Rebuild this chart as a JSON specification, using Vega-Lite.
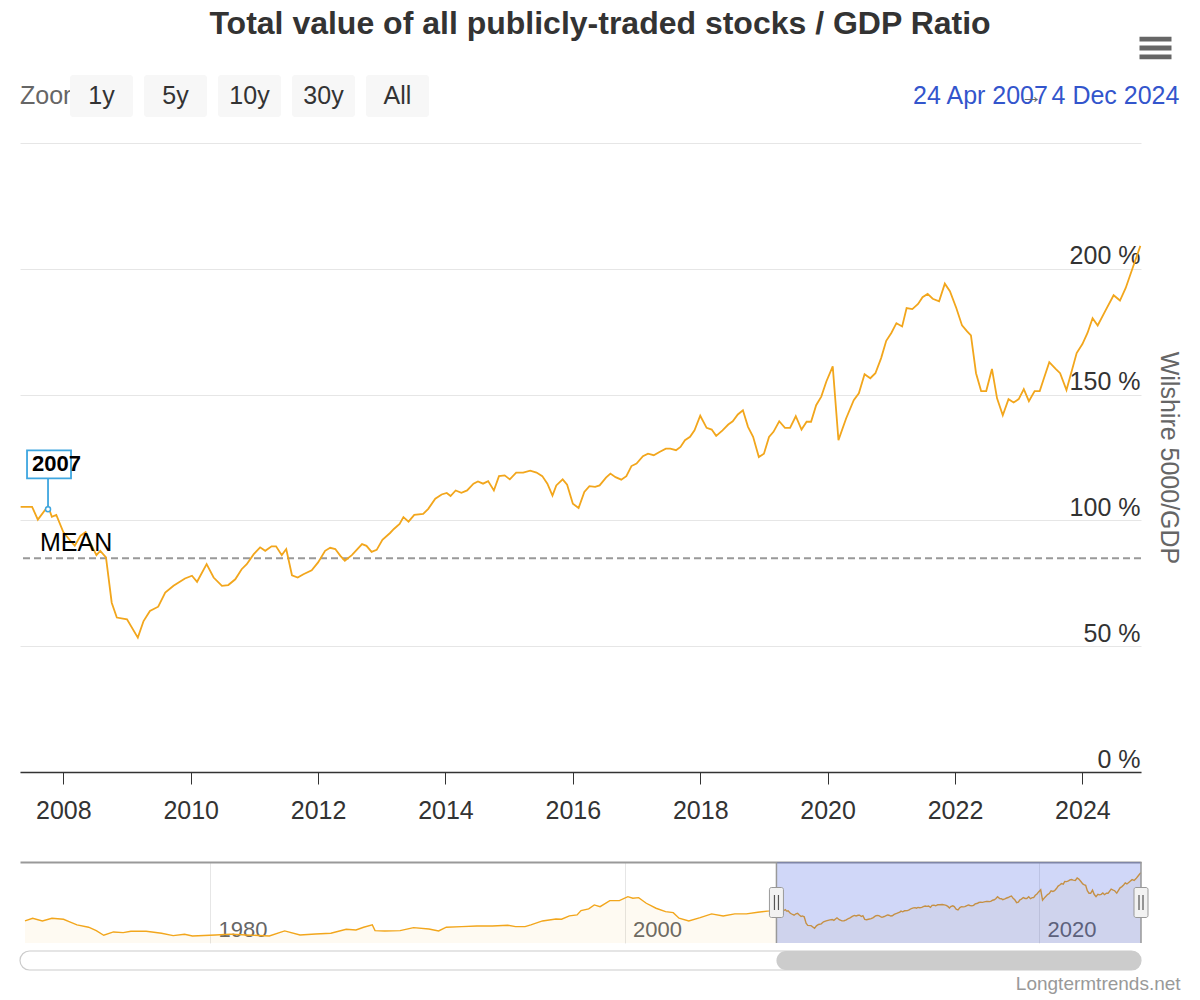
{
  "$schema": "https://vega.github.io/schema/vega-lite/v6.json",
  "background": "white",
  "padding": {"left": 17, "top": 7, "right": 16, "bottom": 4},
  "title": {"text": "Total value of all publicly-traded stocks / GDP Ratio", "fontSize": 32, "fontWeight": "bold", "color": "#333333", "anchor": "middle", "offset": -4},
  "datasets": {
    "wilshire": [
      {"year": 1971.07, "ratio": 73.8}, {"year": 1971.44, "ratio": 81.4}, {"year": 1971.91, "ratio": 73.8}, {"year": 1972.37, "ratio": 81.4},
      {"year": 1972.93, "ratio": 78.6}, {"year": 1973.2, "ratio": 71.9}, {"year": 1973.58, "ratio": 62.6}, {"year": 1974.14, "ratio": 56.2},
      {"year": 1974.51, "ratio": 46.7}, {"year": 1974.87, "ratio": 33.8}, {"year": 1975.34, "ratio": 43.0}, {"year": 1975.81, "ratio": 41.1},
      {"year": 1976.18, "ratio": 45.0}, {"year": 1976.92, "ratio": 45.0}, {"year": 1977.66, "ratio": 39.4}, {"year": 1978.22, "ratio": 32.7},
      {"year": 1978.77, "ratio": 36.6}, {"year": 1979.15, "ratio": 31.8}, {"year": 1980.26, "ratio": 34.6}, {"year": 1981.0, "ratio": 37.0},
      {"year": 1981.74, "ratio": 34.6}, {"year": 1982.86, "ratio": 31.8}, {"year": 1983.6, "ratio": 45.8}, {"year": 1984.34, "ratio": 34.6},
      {"year": 1985.09, "ratio": 37.4}, {"year": 1985.83, "ratio": 39.4}, {"year": 1986.57, "ratio": 50.6}, {"year": 1987.04, "ratio": 48.6},
      {"year": 1987.41, "ratio": 56.2}, {"year": 1987.83, "ratio": 62.6}, {"year": 1987.96, "ratio": 46.7}, {"year": 1988.43, "ratio": 45.8},
      {"year": 1989.17, "ratio": 46.7}, {"year": 1989.82, "ratio": 55.1}, {"year": 1990.56, "ratio": 51.4}, {"year": 1991.03, "ratio": 45.8},
      {"year": 1991.4, "ratio": 56.2}, {"year": 1992.14, "ratio": 57.9}, {"year": 1992.88, "ratio": 59.8}, {"year": 1993.62, "ratio": 59.8},
      {"year": 1994.37, "ratio": 61.8}, {"year": 1994.74, "ratio": 57.9}, {"year": 1995.2, "ratio": 57.9}, {"year": 1995.48, "ratio": 62.6},
      {"year": 1996.04, "ratio": 73.8}, {"year": 1996.69, "ratio": 79.4}, {"year": 1996.96, "ratio": 78.6}, {"year": 1997.34, "ratio": 87.9},
      {"year": 1997.71, "ratio": 90.7}, {"year": 1997.9, "ratio": 102.7}, {"year": 1998.27, "ratio": 107.5}, {"year": 1998.54, "ratio": 118.7},
      {"year": 1998.82, "ratio": 113.9}, {"year": 1999.29, "ratio": 130.7}, {"year": 1999.75, "ratio": 130.7}, {"year": 2000.16, "ratio": 141.9},
      {"year": 2000.4, "ratio": 137.4}, {"year": 2000.68, "ratio": 139.1}, {"year": 2001.05, "ratio": 123.4}, {"year": 2001.52, "ratio": 109.4},
      {"year": 2001.98, "ratio": 99.9}, {"year": 2002.35, "ratio": 97.1}, {"year": 2002.63, "ratio": 81.4}, {"year": 2003.1, "ratio": 73.8},
      {"year": 2003.65, "ratio": 83.1}, {"year": 2004.2, "ratio": 93.5}, {"year": 2004.76, "ratio": 87.9}, {"year": 2005.32, "ratio": 93.5},
      {"year": 2005.88, "ratio": 93.5}, {"year": 2006.43, "ratio": 98.2}, {"year": 2006.99, "ratio": 101.9},
      {"year": 2007.33, "ratio": 105.4}, {"year": 2007.51, "ratio": 105.4}, {"year": 2007.6, "ratio": 100.3}, {"year": 2007.76, "ratio": 105.7},
      {"year": 2007.82, "ratio": 101.4}, {"year": 2007.89, "ratio": 102.2}, {"year": 2008.0, "ratio": 95.4}, {"year": 2008.11, "ratio": 91.9},
      {"year": 2008.18, "ratio": 89.9}, {"year": 2008.27, "ratio": 93.9}, {"year": 2008.35, "ratio": 95.3}, {"year": 2008.42, "ratio": 91.3},
      {"year": 2008.52, "ratio": 86.2}, {"year": 2008.58, "ratio": 87.9}, {"year": 2008.67, "ratio": 85.3}, {"year": 2008.76, "ratio": 67.3},
      {"year": 2008.84, "ratio": 61.4}, {"year": 2009.0, "ratio": 60.7}, {"year": 2009.17, "ratio": 53.4}, {"year": 2009.26, "ratio": 60.0},
      {"year": 2009.36, "ratio": 64.0}, {"year": 2009.49, "ratio": 65.7}, {"year": 2009.6, "ratio": 71.3}, {"year": 2009.73, "ratio": 74.0},
      {"year": 2009.91, "ratio": 76.9}, {"year": 2010.02, "ratio": 78.0}, {"year": 2010.1, "ratio": 75.6}, {"year": 2010.25, "ratio": 82.6},
      {"year": 2010.36, "ratio": 77.3}, {"year": 2010.49, "ratio": 74.0}, {"year": 2010.59, "ratio": 74.3}, {"year": 2010.7, "ratio": 76.6},
      {"year": 2010.8, "ratio": 80.6}, {"year": 2010.88, "ratio": 82.6}, {"year": 2010.99, "ratio": 86.6}, {"year": 2011.09, "ratio": 89.3},
      {"year": 2011.17, "ratio": 87.9}, {"year": 2011.27, "ratio": 89.7}, {"year": 2011.34, "ratio": 89.7}, {"year": 2011.43, "ratio": 86.2},
      {"year": 2011.5, "ratio": 88.6}, {"year": 2011.59, "ratio": 78.2}, {"year": 2011.68, "ratio": 77.3}, {"year": 2011.77, "ratio": 78.6},
      {"year": 2011.9, "ratio": 80.2}, {"year": 2012.0, "ratio": 83.3}, {"year": 2012.11, "ratio": 87.9}, {"year": 2012.19, "ratio": 89.1},
      {"year": 2012.27, "ratio": 88.6}, {"year": 2012.35, "ratio": 85.9}, {"year": 2012.42, "ratio": 84.0}, {"year": 2012.53, "ratio": 86.2},
      {"year": 2012.69, "ratio": 90.6}, {"year": 2012.76, "ratio": 89.9}, {"year": 2012.84, "ratio": 87.5}, {"year": 2012.92, "ratio": 88.3},
      {"year": 2013.01, "ratio": 92.3}, {"year": 2013.13, "ratio": 95.0}, {"year": 2013.19, "ratio": 96.6}, {"year": 2013.28, "ratio": 98.6},
      {"year": 2013.34, "ratio": 101.3}, {"year": 2013.42, "ratio": 99.5}, {"year": 2013.51, "ratio": 102.2}, {"year": 2013.65, "ratio": 102.6},
      {"year": 2013.73, "ratio": 104.6}, {"year": 2013.84, "ratio": 108.6}, {"year": 2013.94, "ratio": 110.3}, {"year": 2014.02, "ratio": 110.9},
      {"year": 2014.08, "ratio": 109.7}, {"year": 2014.16, "ratio": 111.9}, {"year": 2014.25, "ratio": 111.0}, {"year": 2014.34, "ratio": 111.9},
      {"year": 2014.44, "ratio": 114.6}, {"year": 2014.51, "ratio": 115.5}, {"year": 2014.59, "ratio": 114.6}, {"year": 2014.67, "ratio": 115.6},
      {"year": 2014.76, "ratio": 111.9}, {"year": 2014.84, "ratio": 117.6}, {"year": 2014.93, "ratio": 117.9}, {"year": 2015.01, "ratio": 116.3},
      {"year": 2015.11, "ratio": 119.0}, {"year": 2015.22, "ratio": 119.0}, {"year": 2015.33, "ratio": 119.8}, {"year": 2015.43, "ratio": 119.0},
      {"year": 2015.52, "ratio": 117.6}, {"year": 2015.6, "ratio": 114.6}, {"year": 2015.68, "ratio": 109.9}, {"year": 2015.74, "ratio": 113.9},
      {"year": 2015.84, "ratio": 116.3}, {"year": 2015.91, "ratio": 114.2}, {"year": 2016.0, "ratio": 106.6}, {"year": 2016.09, "ratio": 104.9},
      {"year": 2016.18, "ratio": 111.3}, {"year": 2016.26, "ratio": 113.6}, {"year": 2016.35, "ratio": 113.3}, {"year": 2016.42, "ratio": 113.9},
      {"year": 2016.52, "ratio": 117.0}, {"year": 2016.59, "ratio": 118.6}, {"year": 2016.67, "ratio": 117.2}, {"year": 2016.76, "ratio": 116.2},
      {"year": 2016.84, "ratio": 117.6}, {"year": 2016.92, "ratio": 121.6}, {"year": 2017.0, "ratio": 122.6}, {"year": 2017.1, "ratio": 125.5},
      {"year": 2017.18, "ratio": 126.5}, {"year": 2017.27, "ratio": 125.9}, {"year": 2017.36, "ratio": 127.2}, {"year": 2017.46, "ratio": 128.5},
      {"year": 2017.53, "ratio": 128.5}, {"year": 2017.62, "ratio": 127.9}, {"year": 2017.69, "ratio": 129.2}, {"year": 2017.76, "ratio": 131.9},
      {"year": 2017.84, "ratio": 133.2}, {"year": 2017.91, "ratio": 135.8}, {"year": 2018.0, "ratio": 141.6}, {"year": 2018.1, "ratio": 136.8},
      {"year": 2018.18, "ratio": 136.1}, {"year": 2018.25, "ratio": 133.6}, {"year": 2018.35, "ratio": 135.8}, {"year": 2018.44, "ratio": 138.1},
      {"year": 2018.51, "ratio": 139.4}, {"year": 2018.59, "ratio": 142.1}, {"year": 2018.67, "ratio": 143.8}, {"year": 2018.75, "ratio": 137.2},
      {"year": 2018.83, "ratio": 133.2}, {"year": 2018.92, "ratio": 125.2}, {"year": 2019.0, "ratio": 126.5}, {"year": 2019.08, "ratio": 133.2},
      {"year": 2019.15, "ratio": 135.2}, {"year": 2019.24, "ratio": 139.4}, {"year": 2019.33, "ratio": 136.8}, {"year": 2019.41, "ratio": 136.8},
      {"year": 2019.5, "ratio": 141.4}, {"year": 2019.59, "ratio": 136.1}, {"year": 2019.67, "ratio": 139.2}, {"year": 2019.74, "ratio": 139.2},
      {"year": 2019.82, "ratio": 145.8}, {"year": 2019.9, "ratio": 149.2}, {"year": 2019.98, "ratio": 155.2}, {"year": 2020.08, "ratio": 161.2},
      {"year": 2020.17, "ratio": 131.9}, {"year": 2020.29, "ratio": 140.5}, {"year": 2020.41, "ratio": 147.8}, {"year": 2020.49, "ratio": 150.5},
      {"year": 2020.58, "ratio": 158.1}, {"year": 2020.67, "ratio": 156.5}, {"year": 2020.75, "ratio": 158.5}, {"year": 2020.84, "ratio": 164.5},
      {"year": 2020.92, "ratio": 171.4}, {"year": 2021.0, "ratio": 174.5}, {"year": 2021.08, "ratio": 178.4}, {"year": 2021.17, "ratio": 177.1},
      {"year": 2021.24, "ratio": 184.4}, {"year": 2021.33, "ratio": 184.0}, {"year": 2021.42, "ratio": 186.0}, {"year": 2021.49, "ratio": 188.7},
      {"year": 2021.57, "ratio": 190.0}, {"year": 2021.65, "ratio": 188.1}, {"year": 2021.75, "ratio": 187.1}, {"year": 2021.84, "ratio": 194.1},
      {"year": 2021.92, "ratio": 191.1}, {"year": 2022.02, "ratio": 184.4}, {"year": 2022.11, "ratio": 177.5}, {"year": 2022.19, "ratio": 175.1},
      {"year": 2022.25, "ratio": 173.5}, {"year": 2022.33, "ratio": 158.5}, {"year": 2022.41, "ratio": 151.4}, {"year": 2022.49, "ratio": 151.4},
      {"year": 2022.58, "ratio": 160.2}, {"year": 2022.66, "ratio": 148.5}, {"year": 2022.75, "ratio": 141.8}, {"year": 2022.84, "ratio": 148.2},
      {"year": 2022.92, "ratio": 146.9}, {"year": 2023.0, "ratio": 148.2}, {"year": 2023.08, "ratio": 152.2}, {"year": 2023.16, "ratio": 147.4},
      {"year": 2023.25, "ratio": 151.4}, {"year": 2023.33, "ratio": 151.4}, {"year": 2023.4, "ratio": 156.8}, {"year": 2023.48, "ratio": 162.9},
      {"year": 2023.58, "ratio": 160.2}, {"year": 2023.65, "ratio": 158.5}, {"year": 2023.75, "ratio": 151.8}, {"year": 2023.91, "ratio": 166.5},
      {"year": 2024.0, "ratio": 170.1}, {"year": 2024.08, "ratio": 174.5}, {"year": 2024.16, "ratio": 180.4}, {"year": 2024.24, "ratio": 177.5},
      {"year": 2024.37, "ratio": 183.8}, {"year": 2024.49, "ratio": 189.5}, {"year": 2024.59, "ratio": 187.4}, {"year": 2024.68, "ratio": 192.4},
      {"year": 2024.79, "ratio": 200.4}, {"year": 2024.91, "ratio": 209.1}
    ],
    "window": [{"start": 1970.83, "end": 2024.92, "from": 2007.33, "to": 2024.92}]
  },
  "spacing": 26,
  "vconcat": [
    {
      "spacing": 483,
      "hconcat": [
        {
          "spacing": 0,
          "bounds": "flush",
          "hconcat": [
            {
              "width": 50,
              "height": 42,
              "data": {"values": [{"label": "Zoom"}]},
              "mark": {"type": "text", "align": "left", "baseline": "middle", "fontSize": 25, "color": "#666666", "dx": -25},
              "encoding": {"text": {"field": "label"}}
            },
            {
              "width": 359,
              "height": 42,
              "data": {"values": [
                {"range": "1y"}, {"range": "5y"}, {"range": "10y"}, {"range": "30y"}, {"range": "All"}
              ]},
              "encoding": {
                "x": {"field": "range", "type": "nominal", "sort": null, "scale": {"type": "band", "paddingInner": 0.149, "paddingOuter": 0}, "axis": null}
              },
              "layer": [
                {"mark": {"type": "rect", "fill": "#f7f7f7", "cornerRadius": 3}},
                {"mark": {"type": "text", "fontSize": 25, "color": "#333333", "baseline": "middle"}, "encoding": {"text": {"field": "range"}}}
              ]
            }
          ]
        },
        {
          "width": 270,
          "height": 42,
          "layer": [
            {
              "data": {"values": [{"end": "from", "label": "24 Apr 2007"}, {"end": "to", "label": "4 Dec 2024"}]},
              "mark": {"type": "text", "fontSize": 25, "color": "#3355cc", "baseline": "middle"},
              "encoding": {
                "x": {"field": "end", "type": "nominal", "sort": null, "scale": {"type": "point", "padding": 0.5}, "axis": null},
                "text": {"field": "label"}
              }
            },
            {
              "data": {"values": [{"end": "to", "label": "→"}]},
              "mark": {"type": "text", "fontSize": 22, "color": "#666666", "baseline": "middle", "dx": -84},
              "encoding": {"x": {"field": "end", "type": "nominal", "axis": null}, "text": {"field": "label"}}
            },
            {
              "data": {"values": [{"end": "to", "label": "menu"}]},
              "mark": {"type": "point", "shape": "M-1,-0.7L1,-0.7L1,-0.4L-1,-0.4Z M-1,-0.15L1,-0.15L1,0.15L-1,0.15Z M-1,0.4L1,0.4L1,0.7L-1,0.7Z",
                       "size": 1024, "filled": true, "color": "#666666", "opacity": 1, "strokeWidth": 0, "xOffset": 40, "yOffset": -48},
              "encoding": {"x": {"field": "end", "type": "nominal", "axis": null}}
            }
          ]
        }
      ]
    },
    {
      "spacing": 38,
      "vconcat": [
        {
          "width": 1121,
          "height": 629,
          "layer": [
            {
              "data": {"values": [{"mean": 85, "label": "MEAN"}]},
              "mark": {"type": "rule", "color": "#999999", "strokeWidth": 2, "strokeDash": [7, 4]},
              "encoding": {"y": {"field": "mean", "type": "quantitative", "title": "Wilshire 5000/GDP"}}
            },
            {
              "data": {"name": "wilshire"},
              "transform": [{"filter": "datum.year >= 2007.3"}],
              "mark": {"type": "line", "color": "#f2a61c", "strokeWidth": 1.8},
              "encoding": {
                "x": {"field": "year", "type": "quantitative", "title": null,
                      "scale": {"domain": [2007.32, 2024.92], "nice": false, "zero": false},
                      "axis": {"values": [2008, 2010, 2012, 2014, 2016, 2018, 2020, 2022, 2024], "format": "d", "grid": false,
                               "domainColor": "#333333", "domainWidth": 1.5, "tickColor": "#333333", "tickSize": 12, "tickWidth": 1,
                               "labelFontSize": 25, "labelColor": "#333333", "labelPadding": 14, "labelFlush": false}},
                "y": {"field": "ratio", "type": "quantitative", "title": "Wilshire 5000/GDP",
                      "scale": {"domain": [0, 250], "nice": false},
                      "axis": {"orient": "right", "values": [0, 50, 100, 150, 200, 250], "grid": true, "gridColor": "#e6e6e6",
                               "domain": false, "ticks": false, "tickSize": 0, "minExtent": 0,
                               "labelAlign": "right", "labelBaseline": "alphabetic", "labelPadding": -1, "labelOffset": -5,
                               "labelFontSize": 25, "labelColor": "#333333",
                               "labelExpr": "datum.value == 250 ? '' : datum.value + ' %'",
                               "titleFontSize": 25, "titleFontWeight": "normal", "titleColor": "#666666", "titlePadding": 14}}
              }
            },
            {
              "data": {"values": [{"mean": 85, "label": "MEAN"}]},
              "mark": {"type": "text", "align": "left", "baseline": "alphabetic", "fontSize": 25, "color": "#000000", "dx": 20, "dy": -7},
              "encoding": {
                "x": {"datum": 2007.32},
                "y": {"field": "mean", "type": "quantitative", "title": "Wilshire 5000/GDP"},
                "text": {"field": "label"}
              }
            },
            {
              "data": {"values": [{"year": 2007.76, "ratio": 104.4, "title": "2007"}]},
              "layer": [
                {"mark": {"type": "point", "shape": "M0,0L0,-0.5254M-0.3559,-0.5254L0.3898,-0.5254L0.3898,-1L-0.3559,-1Z", "size": 13924,
                          "filled": true, "fill": "white", "stroke": "#3ea6e0", "strokeWidth": 1.8, "opacity": 1}},
                {"mark": {"type": "point", "shape": "circle", "size": 25, "filled": true, "fill": "white", "stroke": "#3ea6e0", "strokeWidth": 1.5, "opacity": 1}},
                {"mark": {"type": "text", "align": "left", "baseline": "middle", "fontSize": 22, "fontWeight": "bold", "color": "#000000", "dx": -16, "dy": -45},
                 "encoding": {"text": {"field": "title"}}}
              ],
              "encoding": {
                "x": {"field": "year", "type": "quantitative", "title": null},
                "y": {"field": "ratio", "type": "quantitative", "title": "Wilshire 5000/GDP"}
              }
            }
          ]
        },
        {
          "spacing": 6,
          "vconcat": [
            {
              "width": 1121,
              "height": 81,
              "layer": [
                {
                  "data": {"name": "wilshire"},
                  "mark": {"type": "area", "fill": "#f2a61c", "fillOpacity": 0.06, "clip": true},
                  "encoding": {
                    "x": {"field": "year", "type": "quantitative", "title": null,
                          "scale": {"domain": [1970.83, 2024.92], "nice": false, "zero": false},
                          "axis": {"orient": "top", "values": [1980, 2000, 2020], "format": "d", "grid": true, "gridColor": "#e6e6e6",
                                   "domain": true, "domainColor": "#999999", "domainWidth": 2, "ticks": false, "tickSize": 0,
                                   "labelPadding": -74, "labelAlign": "left", "labelBaseline": "alphabetic", "labelOffset": 8,
                                   "labelFontSize": 22, "labelColor": "#666666", "labelFlush": false}},
                    "y": {"field": "ratio", "type": "quantitative", "scale": {"domain": [12, 239], "nice": false, "zero": false}, "axis": null}
                  }
                },
                {
                  "data": {"name": "wilshire"},
                  "mark": {"type": "line", "color": "#f2a61c", "strokeWidth": 1.4},
                  "encoding": {
                    "x": {"field": "year", "type": "quantitative", "title": null},
                    "y": {"field": "ratio", "type": "quantitative", "axis": null}
                  }
                },
                {
                  "data": {"name": "window"},
                  "mark": {"type": "rect", "color": "#2040e0", "opacity": 0.21},
                  "encoding": {"x": {"field": "from", "type": "quantitative", "title": null}, "x2": {"field": "to"}}
                },
                {
                  "data": {"name": "window"},
                  "mark": {"type": "rule", "color": "#999999", "strokeWidth": 1.5},
                  "encoding": {"x": {"field": "from", "type": "quantitative", "title": null}}
                },
                {
                  "data": {"name": "window"},
                  "mark": {"type": "rule", "color": "#999999", "strokeWidth": 1.5},
                  "encoding": {"x": {"field": "to", "type": "quantitative", "title": null}}
                },
                {
                  "data": {"name": "window"},
                  "transform": [{"fold": ["from", "to"], "as": ["edge", "pos"]}],
                  "layer": [
                    {"mark": {"type": "tick", "orient": "vertical", "thickness": 14, "size": 30, "fill": "#f2f2f2", "stroke": "#999999", "strokeWidth": 1, "cornerRadius": 2, "opacity": 1}},
                    {"mark": {"type": "tick", "orient": "vertical", "thickness": 1.2, "size": 15, "color": "#555555", "opacity": 1, "xOffset": -2}},
                    {"mark": {"type": "tick", "orient": "vertical", "thickness": 1.2, "size": 15, "color": "#555555", "opacity": 1, "xOffset": 2}}
                  ],
                  "encoding": {"x": {"field": "pos", "type": "quantitative", "title": null}}
                }
              ]
            },
            {
              "width": 1121,
              "height": 19,
              "data": {"name": "window"},
              "title": {"text": "Longtermtrends.net", "orient": "bottom", "anchor": "end", "fontSize": 19, "fontWeight": "normal", "color": "#999999", "dx": 39, "offset": 4},
              "layer": [
                {
                  "mark": {"type": "rect", "fill": "white", "stroke": "#cccccc", "strokeWidth": 1.2, "cornerRadius": 9.5},
                  "encoding": {
                    "x": {"field": "start", "type": "quantitative", "scale": {"domain": [1970.83, 2024.92], "nice": false, "zero": false}, "axis": null},
                    "x2": {"field": "end"}
                  }
                },
                {
                  "mark": {"type": "rect", "fill": "#cccccc", "cornerRadius": 9.5},
                  "encoding": {"x": {"field": "from", "type": "quantitative", "axis": null}, "x2": {"field": "to"}}
                }
              ]
            }
          ]
        }
      ]
    }
  ],
  "config": {
    "font": "Liberation Sans",
    "view": {"stroke": null},
    "title": {"font": "Liberation Sans"},
    "axis": {"labelFont": "Liberation Sans", "titleFont": "Liberation Sans"}
  }
}
